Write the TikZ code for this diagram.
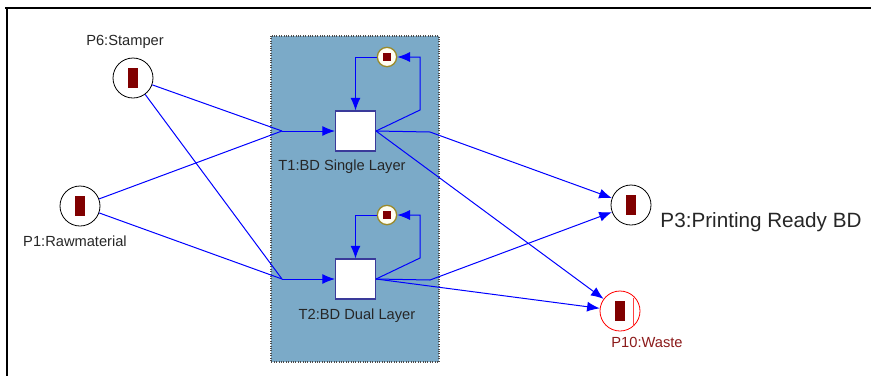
\documentclass[tikz,border=0pt]{standalone}
\usepackage{fontspec}
\setmainfont{Liberation Sans}
\usepackage{xcolor}
\definecolor{tokRed}{HTML}{800000}
\definecolor{boxBlue}{HTML}{7BAAC8}
\definecolor{transEdge}{HTML}{3A3A9A}
\definecolor{olivEdge}{HTML}{9A8A2A}
\definecolor{wasteRed}{HTML}{8B1A1A}
\usepackage{tikz}
\usetikzlibrary{arrows.meta, positioning, calc}

\begin{document}
\begin{tikzpicture}[
  x=0.75pt, y=-0.75pt,
  place/.style={circle, draw=black, line width=0.6pt, fill=white,
    minimum size=30pt, inner sep=0pt},
  token/.style={fill=tokRed, minimum width=7.5pt, minimum height=15pt,
    inner sep=0pt},
  mini/.style={circle, draw=olivEdge, line width=1pt, fill=white!95!yellow,
    minimum size=14.5pt, inner sep=0pt},
  minitok/.style={fill=tokRed, minimum size=6.5pt, inner sep=0pt},
  trans/.style={rectangle, draw=transEdge, line width=0.8pt, fill=white,
    minimum size=30pt, inner sep=0pt},
  lbl/.style={font=\fontsize{11}{13}\selectfont, text=black!85},
  line/.style={draw=blue, line width=0.75pt},
  arc/.style={line, -{Latex[length=9.5pt,width=7.5pt]}}
]
  \useasboundingbox (0,0) rectangle (871,376);

  % Frame
  \draw[line width=2pt] (5,8) -- (871,8);
  \draw[line width=1.6pt] (7,8) -- (7,376);

  % Group box
  \filldraw[fill=boxBlue, draw=black!70, densely dotted, line width=0.8pt]
    (271,36) rectangle (439,362);

  % Places
  \node[place] (p6) at (133,78) {};
  \node[token] (tk6) at (p6) {};
  \node[lbl] (lp6) at (125,42) {P6:Stamper};

  \node[place] (p1) at (80,206) {};
  \node[token] (tk1) at (p1) {};
  \node[lbl] (lp1) at (75,241) {P1:Rawmaterial};

  \node[place] (p3) at (631,205) {};
  \node[token] (tk3) at (p3) {};
  \node[font=\fontsize{15.5}{18}\selectfont, text=black!85] (lp3) at (761,222)
    {P3:Printing Ready BD};

  \node[place, draw=red] (p10) at (620,311) {};
  \node[token] (tk10) at (p10) {};
  \draw[red!75, line width=0.5pt] (633,298) -- (633,326);
  \node[lbl, text=wasteRed] (lp10) at (647,342) {P10:Waste};

  % Transitions
  \node[trans] (t1) at (355.5,131) {};
  \node[lbl] (lt1) at (342,167) {T1:BD Single Layer};
  \node[mini] (s1) at (387,57) {};
  \node[minitok] (st1) at (s1) {};

  \node[trans] (t2) at (355.5,279) {};
  \node[lbl] (lt2) at (357,316) {T2:BD Dual Layer};
  \node[mini] (s2) at (387,215) {};
  \node[minitok] (st2) at (s2) {};

  % Junction points
  \coordinate (j1) at (282,131);
  \coordinate (j2) at (282,279);
  \coordinate (r1) at (420,110);
  \coordinate (r2) at (420,258);
  \coordinate (k1) at (430,132);
  \coordinate (k2) at (430,280);

  % Inputs
  \draw[line] (p6) -- (j1);
  \draw[line] (p1) -- (j1);
  \draw[arc] (j1) -- (t1);
  \draw[line] (p6) -- (j2);
  \draw[line] (p1) -- (j2);
  \draw[arc] (j2) -- (t2);

  % Self loops
  \draw[arc] (t1.east) -- (r1) |- (s1);
  \draw[arc] (s1) -| (t1.north);
  \draw[arc] (t2.east) -- (r2) |- (s2);
  \draw[arc] (s2) -| (t2.north);

  % Outputs
  \draw[arc] (t1.east) -- (k1) -- (p3);
  \draw[arc] (t1.east) -- (p10);
  \draw[arc] (t2.east) -- (k2) -- (p3);
  \draw[arc] (t2.east) -- (p10);
\end{tikzpicture}
\end{document}
